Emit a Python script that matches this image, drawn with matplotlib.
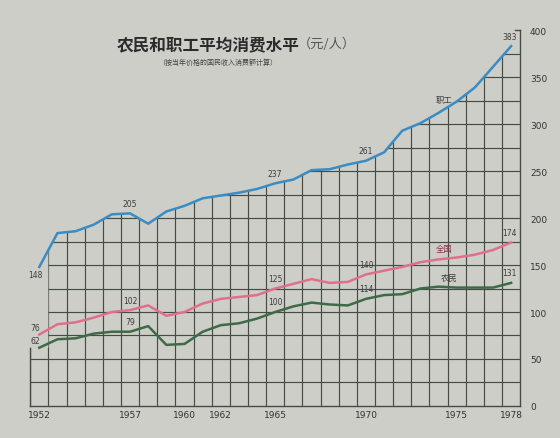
import matplotlib.pyplot as plt
from matplotlib.patches import Polygon
import numpy as np

years = list(range(1952, 1979))
# yuan per person
workers = [148, 184, 186, 193, 204, 205, 194, 207, 213, 221, 224, 227, 231, 237,
           241, 251, 252, 257, 261, 270, 293, 301, 312, 324, 339, 361, 383]
national = [76, 87, 89, 94, 100, 102, 107, 96, 100, 109, 114, 116, 118, 125,
            130, 135, 131, 132, 140, 144, 148, 153, 156, 158, 161, 166, 174]
farmers = [62, 71, 72, 77, 79, 79, 85, 65, 66, 79, 86, 88, 93, 100,
           106, 110, 108, 107, 114, 118, 119, 125, 127, 126, 126, 126, 131]

year_ticks = [1952, 1957, 1960, 1962, 1965, 1970, 1975, 1978]
value_ticks = list(range(0, 401, 50))
labelled_years = [1952, 1957, 1965, 1970, 1978]

cjk = ['Noto Sans CJK SC', 'DejaVu Sans']
paper = '#cdcec8'
ink = '#464c45'
num_color = '#3c3c3c'

fig = plt.figure(figsize=(5.6, 4.39), dpi=100, facecolor=paper)
ax = fig.add_axes([0.054, 0.073, 0.875, 0.856])  # llx, lly, w, h
ax.set_facecolor(paper)
ax.set_xlim(1951.5, 1978.5)
ax.set_ylim(0, 400)

# grid is only printed underneath the workers' curve
x0, x1 = years[0] + 0.5, years[-1] + 0.5
top_start = np.interp(x0, years, workers)
top_end = workers[-1] + (workers[-1] - workers[-2]) / 2
verts = [(years[0] - 0.5, 0), (years[0] - 0.5, farmers[0]), (x0, farmers[0]),
         (x0, top_start)]
verts += [(y, w) for y, w in zip(years[1:], workers[1:])]
verts += [(x1, top_end), (x1, 0)]
clip = Polygon(verts, closed=True, transform=ax.transData)

vl = ax.vlines(np.arange(1951.5, 1978.0, 1.0), 0, 400, colors=ink, lw=0.85)
hl = ax.hlines(np.arange(25, 400, 25), 1951.5, 1978.5, colors=ink, lw=0.85)
vl.set_clip_path(clip)
hl.set_clip_path(clip)

ax.plot(years, workers, color='#3a8cc4', lw=1.8, zorder=3)
ax.plot(years, national, color='#e07089', lw=1.8, zorder=3)
ax.plot(years, farmers, color='#3e6b46', lw=1.8, zorder=3)

# value labels
for series in (workers, national, farmers):
    for yr in labelled_years:
        v = series[years.index(yr)]
        dx, dy = 0, 4
        if yr == 1952:
            dx, dy = -3, 2
            if series is workers:
                dy = -9
        if yr == 1978:
            dx = -1
        ax.annotate(str(v), (yr, v), xytext=(dx, dy), textcoords='offset points',
                    ha='center', va='bottom', fontsize=5.5, color=num_color,
                    zorder=4)

ax.annotate('职工', (1974.3, workers[years.index(1974)] + 3), xytext=(0, 4),
            textcoords='offset points', ha='center', va='bottom',
            fontsize=6, color=num_color, family=cjk)
ax.annotate('全国', (1974.3, national[years.index(1974)] + 1), xytext=(0, 4),
            textcoords='offset points', ha='center', va='bottom',
            fontsize=6, color='#8a3a4a', family=cjk)
ax.annotate('农民', (1974.6, farmers[years.index(1975)]), xytext=(0, 4),
            textcoords='offset points', ha='center', va='bottom',
            fontsize=6, color=num_color, family=cjk)

ax.spines['top'].set_visible(False)
ax.spines['left'].set_bounds(0, farmers[0])
for side in ('left', 'bottom', 'right'):
    ax.spines[side].set_color(ink)
    ax.spines[side].set_linewidth(1.0)
ax.plot([1978.2, 1978.5], [400, 400], color=ink, lw=1.0, clip_on=False)

ax.yaxis.tick_right()
ax.set_yticks(value_ticks)
ax.set_xticks(year_ticks)
ax.tick_params(axis='y', length=0, pad=7, labelsize=6.5, labelcolor='#333333')
ax.tick_params(axis='x', length=0, pad=3, labelsize=6.5, labelcolor='#333333')

fig.text(0.209, 0.897, '农民和职工平均消费水平', family=cjk, fontsize=12,
         fontweight='bold', color='#2b2b2b', ha='left', va='center')
fig.text(0.532, 0.899, '（元/人）', family=cjk, fontsize=9.5,
         color='#555555', ha='left', va='center')
fig.text(0.388, 0.856, '（按当年价格的国民收入消费额计算）', family=cjk,
         fontsize=5, color='#444444', ha='center', va='center')

fig.savefig('out.png', dpi=100, facecolor=paper)
